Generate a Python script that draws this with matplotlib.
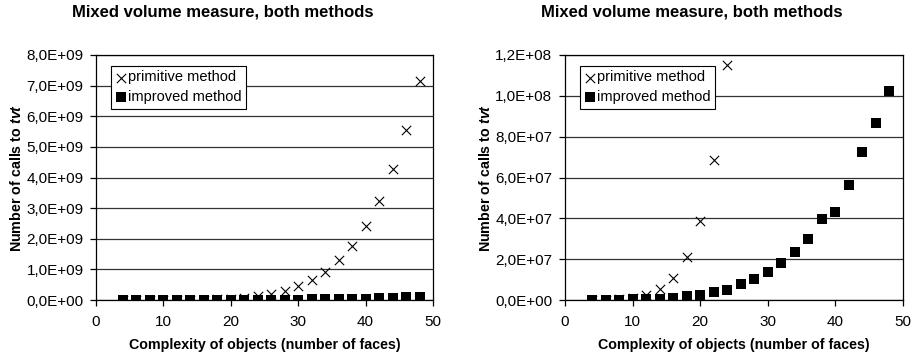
import numpy as np
import matplotlib.pyplot as plt
from matplotlib.ticker import FuncFormatter, MultipleLocator

plt.rcParams['font.family'] = ['Liberation Sans', 'DejaVu Sans']
plt.rcParams['mathtext.fontset'] = 'custom'
plt.rcParams['mathtext.it'] = 'Liberation Sans:italic:bold'

faces = [4, 6, 8, 10, 12, 14, 16, 18, 20, 22, 24, 26, 28, 30, 32, 34, 36, 38, 40, 42, 44, 46, 48]
primitive = [0.1e6, 0.2e6, 0.5e6, 1.1e6, 2.4e6, 5.2e6, 10.6e6, 21.2e6, 38.9e6, 68.6e6, 1.15e8,
             0.19e9, 0.30e9, 0.46e9, 0.65e9, 0.92e9, 1.29e9, 1.77e9, 2.42e9, 3.23e9, 4.27e9,
             5.56e9, 7.15e9]
improved = [0.02e6, 0.05e6, 0.1e6, 0.3e6, 0.5e6, 0.7e6, 1.1e6, 1.9e6, 2.4e6, 3.8e6, 4.9e6,
            8.0e6, 10.1e6, 13.9e6, 18.0e6, 23.7e6, 29.9e6, 39.8e6, 42.9e6, 56.2e6, 72.7e6,
            86.9e6, 102.4e6]

title = "Mixed volume measure, both methods"
xlabel = "Complexity of objects (number of faces)"
ylabel = r"Number of calls to $\it{tvt}$"


def sci_comma(v, pos):
    return f"{v:.1E}".replace('.', ',')


fig = plt.figure(figsize=(9.15, 3.58), dpi=100)
panels = [
    ([96 / 915, 58 / 358, 337 / 915, 245 / 358], 8e9, 1e9, 223 / 915),
    ([565 / 915, 58 / 358, 338 / 915, 245 / 358], 1.2e8, 2e7, 692 / 915),
]

for rect, ymax, ystep, tx in panels:
    ax = fig.add_axes(rect)
    ax.scatter(faces, primitive, marker='x', s=45, color='black', linewidths=0.8,
               label='primitive method', zorder=3)
    ax.scatter(faces, improved, marker='s', s=48, color='black', linewidths=0,
               label='improved method', zorder=4)
    ax.set_xlim(0, 50)
    ax.set_ylim(0, ymax)
    ax.xaxis.set_major_locator(MultipleLocator(10))
    ax.yaxis.set_major_locator(MultipleLocator(ystep))
    ax.yaxis.set_major_formatter(FuncFormatter(sci_comma))
    ax.grid(axis='y', color='#333333', lw=0.9)
    ax.set_axisbelow(True)
    for s in ax.spines.values():
        s.set_linewidth(0.9)
    ax.tick_params(direction='out', length=4, width=0.9, labelsize=11)
    ax.tick_params(axis='x', pad=7)
    ax.tick_params(axis='y', pad=5)
    ax.set_xlabel(xlabel, fontsize=10.3, fontweight='bold', labelpad=6)
    ax.set_ylabel(ylabel, fontsize=10.3, fontweight='bold', labelpad=2)
    leg = ax.legend(loc='upper left', bbox_to_anchor=(0.045, 0.955), fontsize=10.5,
                    frameon=True, fancybox=False, edgecolor='black', framealpha=1,
                    handlelength=0.7, handletextpad=0.15, borderpad=0.3,
                    labelspacing=0.4, borderaxespad=0, scatterpoints=1)
    leg.get_frame().set_linewidth(0.8)
    fig.text(tx, 1 - 12 / 358, title, ha='center', va='center',
             fontsize=12, fontweight='bold')

fig.savefig('out.png', dpi=100)
